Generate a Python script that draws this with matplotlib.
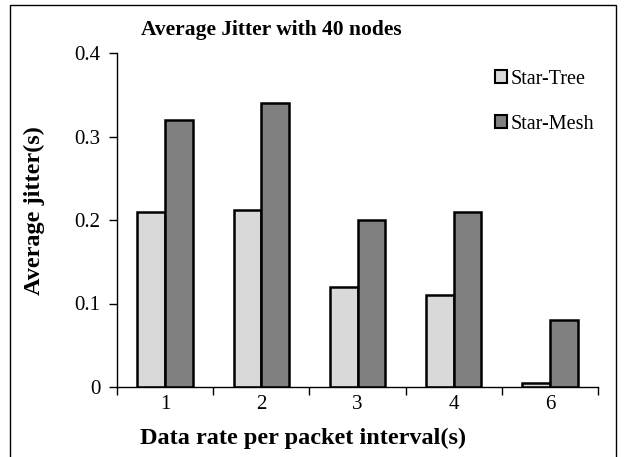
import numpy as np
import matplotlib
matplotlib.use('Agg')
import matplotlib.pyplot as plt
from matplotlib.patches import Rectangle

categories = ['1', '2', '3', '4', '6']
starTree = [0.21, 0.212, 0.12, 0.11, 0.005]
starMesh = [0.32, 0.34, 0.20, 0.21, 0.08]
seriesNames = ['Star-Tree', 'Star-Mesh']
yTicks = [0, 0.1, 0.2, 0.3, 0.4]
yTickLabels = ['0', '0.1', '0.2', '0.3', '0.4']

plt.rcParams['font.family'] = ['Liberation Serif', 'DejaVu Serif']

fig = plt.figure(figsize=(6.25, 4.57), dpi=100)
ax = fig.add_axes([117/625, 70/457, 481/625, 334/457])

x = np.arange(len(categories))
w = 0.287
ax.bar(x - w/2, starTree, w, color='#d9d9d9', edgecolor='black', linewidth=1.8, label=seriesNames[0])
ax.bar(x + w/2, starMesh, w, color='#808080', edgecolor='black', linewidth=1.8, label=seriesNames[1])

ax.set_xlim(-0.5, len(categories) - 0.5)
ax.set_ylim(0, 0.4)
ax.set_yticks(yTicks)
ax.set_yticklabels(yTickLabels, fontsize=15)
ax.set_xticks(np.arange(len(categories) + 1) - 0.5)
ax.set_xticklabels([])
ax.set_xticks(x, minor=True)
ax.set_xticklabels(categories, minor=True, fontsize=15)
ax.tick_params(axis='x', which='major', direction='out', length=6, width=1)
ax.tick_params(axis='x', which='minor', length=0, pad=6)
ax.tick_params(axis='y', direction='out', length=6, width=1, pad=6)
ax.spines['top'].set_visible(False)
ax.spines['right'].set_visible(False)
ax.spines['left'].set_linewidth(1)
ax.spines['bottom'].set_linewidth(1)

ax.set_xlabel('Data rate per packet interval(s)', fontsize=17.5, fontweight='bold')
ax.xaxis.set_label_coords(0.387, -0.153)
ax.xaxis.label.set_va('center')
ax.set_ylabel('Average jitter(s)', fontsize=17.5, fontweight='bold')
ax.yaxis.set_label_coords(-0.1726, 0.527)
ax.yaxis.label.set_va('center')
fig.text(271/625, 1 - 30/457, 'Average Jitter with 40 nodes', fontsize=15.5, fontweight='bold',
         ha='center', va='center')

leg = ax.legend(loc='upper left', bbox_to_anchor=(0.765, 0.98), frameon=False, fontsize=14.5,
                borderpad=0, handlelength=0.6, handleheight=0.6, handletextpad=0.15,
                labelspacing=1.3)
for h in leg.legend_handles:
    h.set_linewidth(1.5)

fig.patches.append(Rectangle((10/625, -0.1), 606/625, 1.1 - 5/457, transform=fig.transFigure,
                             fill=False, edgecolor='black', linewidth=1))

fig.savefig('out.png', dpi=100)
